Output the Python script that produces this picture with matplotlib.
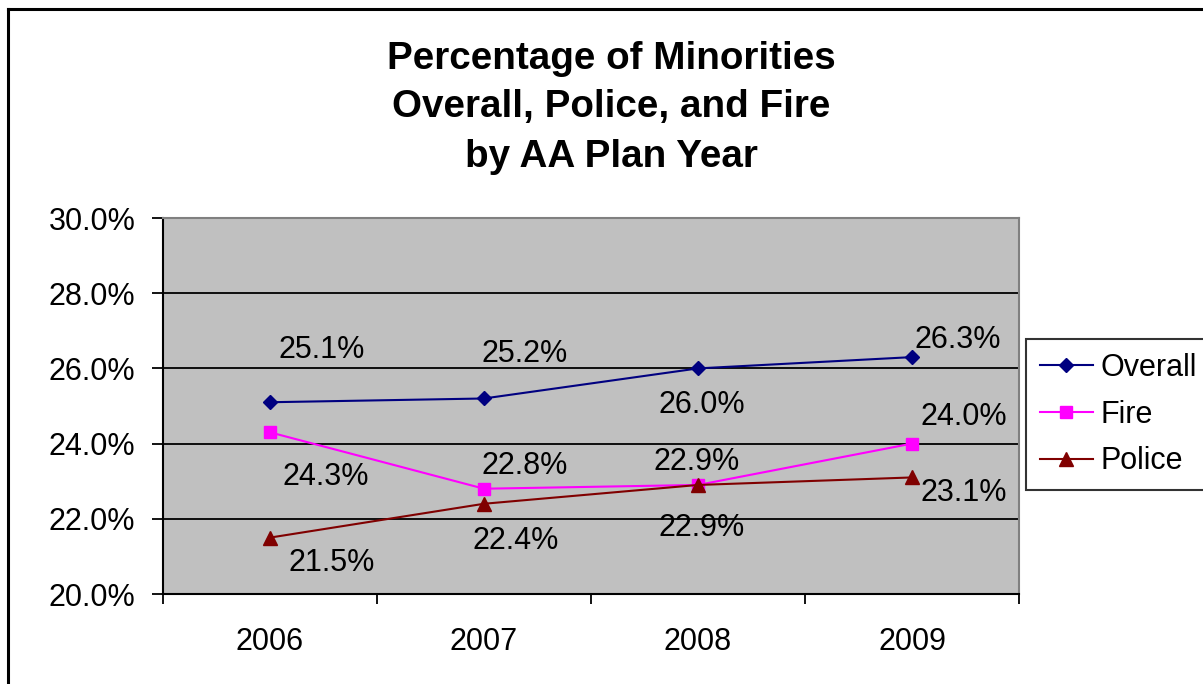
import matplotlib
matplotlib.use("Agg")
import matplotlib.pyplot as plt
from matplotlib.lines import Line2D

# Data
years = ["2006", "2007", "2008", "2009"]
overall = [25.1, 25.2, 26.0, 26.3]
fire = [24.3, 22.8, 22.9, 24.0]
police = [21.5, 22.4, 22.9, 23.1]
y_ticks = [20, 22, 24, 26, 28, 30]

FONT = "Liberation Sans"
plt.rcParams["font.family"] = [FONT, "DejaVu Sans"]

W, H = 1203, 684
fig = plt.figure(figsize=(W / 100, H / 100), dpi=100)
fig.patch.set_facecolor("white")

# Outer chart frame (left and top edges visible)
fig.add_artist(Line2D([7.5 / W, 7.5 / W], [0, 1 - 9 / H], transform=fig.transFigure,
                      color="black", lw=2.2))
fig.add_artist(Line2D([7.5 / W, 1], [1 - 9 / H, 1 - 9 / H], transform=fig.transFigure,
                      color="black", lw=2.2))

# Plot area
left, right, top, bottom = 163, 1019, 218, 594
ax = fig.add_axes([left / W, 1 - bottom / H, (right - left) / W, (bottom - top) / H])
ax.set_facecolor("#C0C0C0")
x = list(range(len(years)))
ax.set_xlim(-0.5, len(years) - 0.5)
ax.set_ylim(20, 30)

for yv in y_ticks[1:-1]:
    ax.axhline(yv, color="black", lw=1.3, zorder=1)

series = [
    ("Overall", overall, "#000080", "D", 7.0),
    ("Fire", fire, "#FF00FF", "s", 8.0),
    ("Police", police, "#800000", "^", 9.5),
]
for name, vals, col, mk, ms in series:
    ax.plot(x, vals, color=col, lw=1.5, marker=mk, markersize=ms,
            markerfacecolor=col, markeredgecolor=col, label=name, zorder=3,
            clip_on=False)

# Data label offsets in pixels (dx right, dy down)
label_offsets = {
    "Overall": [(52, -52), (41, -44), (4, 37), (46, -17)],
    "Fire": [(56, 45), (41, -23), (-1, -23), (52, -27)],
    "Police": [(62, 25), (32, 37), (4, 43), (52, 16)],
}
for name, vals, col, mk, ms in series:
    for i, v in enumerate(vals):
        dx, dy = label_offsets[name][i]
        ax.annotate(f"{v:.1f}%", (i, v), xytext=(dx, -dy), textcoords="offset pixels",
                    ha="center", va="center", fontsize=22, color="black", zorder=4)

# Axes styling
ax.set_yticks(y_ticks)
ax.set_yticklabels([f"{t:.1f}%" for t in y_ticks])
ax.set_xticks([i - 0.5 for i in range(len(years) + 1)])
ax.set_xticklabels([])
ax.set_xticks(x, minor=True)
ax.set_xticklabels(years, minor=True)
ax.tick_params(axis="y", direction="out", length=8, width=1.3, pad=12, labelsize=22,
               colors="black")
ax.tick_params(axis="x", which="major", direction="out", length=7, width=1.3)
ax.tick_params(axis="x", which="minor", length=0, pad=23.5, labelsize=22)
for side in ("left", "bottom"):
    ax.spines[side].set_color("black")
    ax.spines[side].set_linewidth(1.5)
for side in ("top", "right"):
    ax.spines[side].set_color("#808080")
    ax.spines[side].set_linewidth(1.5)

# Title
title_lines = ["Percentage of Minorities", "Overall, Police, and Fire", "by AA Plan Year"]
for line, base in zip(title_lines, [69, 117, 167]):
    fig.text(611 / W, 1 - base / H, line, ha="center", va="baseline",
             fontsize=27.8, fontweight="bold", color="black")

# Legend
leg = fig.legend(loc="upper left", bbox_to_anchor=(1026 / W, 1 - 339 / H),
                 bbox_transform=fig.transFigure, fontsize=22, frameon=True,
                 fancybox=False, shadow=False, handlelength=1.75, handletextpad=0.25,
                 borderpad=0.45, labelspacing=0.55, borderaxespad=0)
leg.get_frame().set_edgecolor("black")
leg.get_frame().set_linewidth(1.5)
leg.get_frame().set_facecolor("white")

fig.savefig("out.png", dpi=100, facecolor="white")
